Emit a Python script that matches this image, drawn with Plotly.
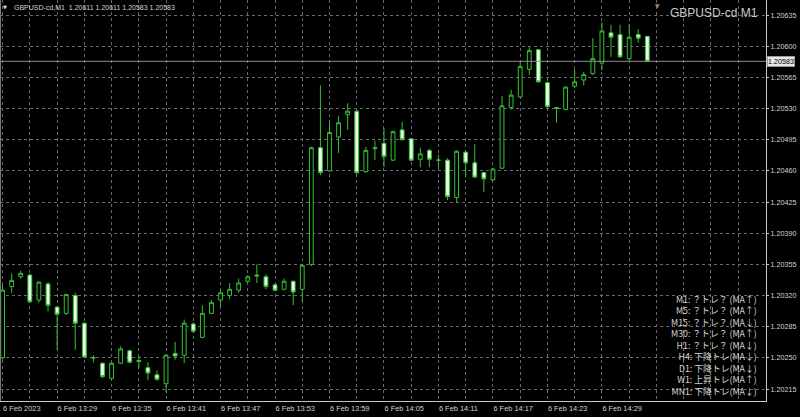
import plotly.graph_objects as go
import pandas as pd

# ---------------- data ----------------
symbol_title = "GBPUSD-cd M1"
header_text = "GBPUSD-cd,M1  1.20611 1.20611 1.20583 1.20583"

start = pd.Timestamp("2023-02-06 13:23")
times = [start + pd.Timedelta(minutes=i) for i in range(72)]

opens = [1.20250, 1.20330, 1.20341, 1.20343, 1.20315, 1.20333, 1.20307, 1.20300, 1.20320, 1.20289,
         1.20250, 1.20244, 1.20227, 1.20244, 1.20258, 1.20247, 1.20239, 1.20231, 1.20221, 1.20255,
         1.20253, 1.20288, 1.20273, 1.20300, 1.20315, 1.20320, 1.20326, 1.20336, 1.20343, 1.20341,
         1.20332, 1.20327, 1.20336, 1.20327, 1.20355, 1.20486, 1.20460, 1.20498, 1.20523, 1.20527,
         1.20459, 1.20486, 1.20491, 1.20472, 1.20506, 1.20496, 1.20473, 1.20483, 1.20472, 1.20472,
         1.20430, 1.20481, 1.20469, 1.20458, 1.20450, 1.20463, 1.20531, 1.20543, 1.20574, 1.20596,
         1.20559, 1.20531, 1.20529, 1.20555, 1.20562, 1.20569, 1.20581, 1.20615, 1.20613, 1.20586,
         1.20613, 1.20611]
highs = [1.20332, 1.20345, 1.20348, 1.20344, 1.20336, 1.20335, 1.20308, 1.20322, 1.20323, 1.20290,
         1.20253, 1.20245, 1.20245, 1.20263, 1.20259, 1.20252, 1.20245, 1.20236, 1.20254, 1.20268,
         1.20293, 1.20290, 1.20309, 1.20315, 1.20327, 1.20334, 1.20339, 1.20343, 1.20355, 1.20344,
         1.20333, 1.20339, 1.20337, 1.20355, 1.20487, 1.20556, 1.20514, 1.20522, 1.20536, 1.20528,
         1.20487, 1.20494, 1.20508, 1.20505, 1.20515, 1.20497, 1.20486, 1.20485, 1.20478, 1.20474,
         1.20483, 1.20482, 1.20490, 1.20459, 1.20463, 1.20544, 1.20551, 1.20582, 1.20599, 1.20597,
         1.20560, 1.20532, 1.20555, 1.20574, 1.20571, 1.20609, 1.20627, 1.20624, 1.20624, 1.20624,
         1.20619, 1.20611]
lows = [1.20248, 1.20323, 1.20339, 1.20312, 1.20312, 1.20302, 1.20259, 1.20298, 1.20259, 1.20250,
        1.20245, 1.20227, 1.20226, 1.20243, 1.20244, 1.20238, 1.20225, 1.20224, 1.20211, 1.20248,
        1.20244, 1.20278, 1.20272, 1.20299, 1.20307, 1.20316, 1.20323, 1.20334, 1.20334, 1.20327,
        1.20325, 1.20326, 1.20309, 1.20313, 1.20353, 1.20455, 1.20459, 1.20480, 1.20506, 1.20455,
        1.20458, 1.20472, 1.20464, 1.20471, 1.20494, 1.20471, 1.20464, 1.20464, 1.20463, 1.20427,
        1.20424, 1.20453, 1.20452, 1.20436, 1.20449, 1.20462, 1.20529, 1.20542, 1.20568, 1.20559,
        1.20531, 1.20514, 1.20528, 1.20553, 1.20556, 1.20568, 1.20573, 1.20588, 1.20587, 1.20584,
        1.20604, 1.20583]
closes = [1.20326, 1.20337, 1.20345, 1.20313, 1.20335, 1.20309, 1.20299, 1.20321, 1.20289, 1.20251,
          1.20250, 1.20229, 1.20244, 1.20260, 1.20245, 1.20246, 1.20233, 1.20226, 1.20253, 1.20252,
          1.20289, 1.20280, 1.20300, 1.20312, 1.20323, 1.20327, 1.20334, 1.20341, 1.20342, 1.20330,
          1.20326, 1.20336, 1.20324, 1.20354, 1.20486, 1.20458, 1.20503, 1.20514, 1.20527, 1.20458,
          1.20483, 1.20485, 1.20476, 1.20504, 1.20495, 1.20472, 1.20479, 1.20473, 1.20472, 1.20431,
          1.20482, 1.20469, 1.20453, 1.20451, 1.20462, 1.20533, 1.20545, 1.20577, 1.20595, 1.20560,
          1.20532, 1.20530, 1.20554, 1.20560, 1.20568, 1.20586, 1.20617, 1.20610, 1.20588, 1.20610,
          1.20609, 1.20583]

price_tick_labels = ["1.20215", "1.20250", "1.20285", "1.20320", "1.20355", "1.20390", "1.20425",
                     "1.20460", "1.20495", "1.20530", "1.20565", "1.20600", "1.20635"]
time_tick_labels = ["6 Feb 2023", "6 Feb 13:29", "6 Feb 13:35", "6 Feb 13:41", "6 Feb 13:47",
                    "6 Feb 13:53", "6 Feb 13:59", "6 Feb 14:05", "6 Feb 14:11", "6 Feb 14:17",
                    "6 Feb 14:23", "6 Feb 14:29"]
trend_lines = ["M1: ？トレ？ (MA↑)", "M5: ？トレ？ (MA↑)", "M15: ？トレ？ (MA↓)",
               "M30: ？トレ？ (MA↑)", "H1: ？トレ？ (MA↓)", "H4: 下降トレ(MA↓)",
               "D1: 下降トレ(MA↓)", "W1: 上昇トレ(MA↑)", "MN1: 下降トレ(MA↓)"]

# ---------------- styling / layout ----------------
W, H = 800, 417
ML, MR, MT, MB = 0, 34, 0, 16
PW, PH = W - ML - MR, H - MT - MB
GREEN = "#33c233"
BEAR_FILL = "#ecfbec"
GRID = "#6a6a6a"
AXIS = "#c8c8c8"
TXT = "#d4d4d4"
LAT = "Liberation Sans, Arial, sans-serif"
CJK = "Noto Sans CJK JP, sans-serif"

fig = go.Figure(go.Candlestick(
    x=times, open=opens, high=highs, low=lows, close=closes,
    increasing=dict(line=dict(color=GREEN, width=1), fillcolor="#000000"),
    decreasing=dict(line=dict(color=GREEN, width=1), fillcolor=BEAR_FILL),
    whiskerwidth=0, hoverinfo="skip", showlegend=False,
))

minute = pd.Timedelta(minutes=1)
x_range = [start - 0.286 * minute, start + 84.07 * minute]
grid_vals = [start + 3 * k * minute for k in range(0, 29)]
grid_text = []
for k in range(0, 29):
    idx = 3 * k
    if idx % 6 == 0 and idx // 6 < len(time_tick_labels):
        grid_text.append(time_tick_labels[idx // 6])
    else:
        grid_text.append("")

fig.update_layout(
    width=W, height=H,
    margin=dict(l=ML, r=MR, t=MT, b=MB, autoexpand=False),
    paper_bgcolor="#000000", plot_bgcolor="#000000",
    boxgap=0.4,
    hovermode=False,
    xaxis=dict(
        type="date", range=x_range, rangeslider=dict(visible=False),
        tickmode="array", tickvals=grid_vals, ticktext=grid_text,
        ticklabelposition="outside right",
        showgrid=True, gridcolor=GRID, griddash="dot", gridwidth=1,
        showline=True, linecolor=AXIS, linewidth=1,
        ticks="", zeroline=False, automargin=False,
        tickfont=dict(family=LAT, size=7.4, color=TXT),
    ),
    yaxis=dict(
        side="right", range=[1.2020156, 1.2065184],
        tickmode="array", tickvals=[float(s) for s in price_tick_labels], ticktext=price_tick_labels,
        showgrid=True, gridcolor=GRID, griddash="dot", gridwidth=1,
        showline=True, linecolor=AXIS, linewidth=1,
        ticks="outside", ticklen=2, tickcolor=AXIS,
        zeroline=False, automargin=False,
        tickfont=dict(family=LAT, size=7.2, color=TXT),
    ),
)

# current price line and label
last_close = closes[-1]
fig.add_shape(type="line", xref="paper", yref="y", x0=0, x1=1, y0=last_close, y1=last_close,
              line=dict(color="#8e8e8e", width=1))
fig.add_annotation(xref="paper", yref="y", x=1, y=last_close, xanchor="left", yanchor="middle",
                   xshift=1, text=f"{last_close:.5f}", showarrow=False,
                   font=dict(family=LAT, size=7.2, color="#000000"),
                   bgcolor="#e6e6e6", bordercolor="#9a9a9a", borderwidth=1, borderpad=0)

# left frame line
fig.add_shape(type="line", xref="paper", yref="paper", x0=0, x1=0, y0=0, y1=1,
              line=dict(color="#7a7a7a", width=2))

# header
fig.add_annotation(xref="paper", yref="paper", x=5 / PW, y=1 - 7 / PH, xanchor="center", yanchor="middle",
                   text="▼", showarrow=False, font=dict(family="DejaVu Sans", size=5, color="#e0e0e0"))
fig.add_annotation(xref="paper", yref="paper", x=12 / PW, y=1 - 7 / PH, xanchor="left", yanchor="middle",
                   text=header_text, showarrow=False, font=dict(family=LAT, size=7, color=TXT))
fig.add_annotation(xref="paper", yref="paper", x=760 / PW, y=1 - 13 / PH, xanchor="right", yanchor="middle",
                   text=symbol_title, showarrow=False, font=dict(family=LAT, size=12, color="#c8c8c8"))
# chart shift marker
fig.add_annotation(xref="paper", yref="paper", x=657.5 / PW, y=1, xanchor="center", yanchor="top",
                   text="▼", showarrow=False, font=dict(family="DejaVu Sans", size=6, color="#8a8a8a"))

# trend text block (single multi-line text, right aligned)
fig.add_annotation(xref="paper", yref="paper", x=759 / PW, y=1 - 345.5 / PH,
                   xanchor="right", yanchor="middle", align="right",
                   text="<br>".join(trend_lines), showarrow=False,
                   font=dict(family=CJK, size=8.8, color=TXT))

fig.write_html("out.html", config={"displayModeBar": False},
               post_script="document.body.style.margin='0px';document.body.style.padding='0px';")
